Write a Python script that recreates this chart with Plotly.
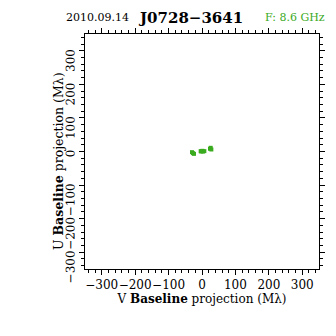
import plotly.graph_objects as go

# Data (Mλ)
v_proj = [-30, -27, -24, -4, -2, 1, 3, 7, 24, 26, 28]
u_proj = [-2, -5, -7, 1, 0, 2, 0, 1, 8, 11, 6]

date_text = "2010.09.14"
source = "J0728\u22123641"
freq_text = "F: 8.6 GHz"
tickvals = [-300, -200, -100, 0, 100, 200, 300]

green = "#3aaa1e"
font_fam = "DejaVu Serif"

# page body has an 8px margin; plot area in page coords x 85-319, y 34-269
OFF = 8
L, R, T, B = 85 - OFF, 336 - 319 + OFF, 34 - OFF, 336 - 269 + OFF
PW = 336 - L - R
PH = 336 - T - B

fig = go.Figure()
fig.add_trace(go.Scatter(x=v_proj, y=u_proj, mode="markers",
                         marker=dict(symbol="square", size=4, color=green, line=dict(width=0)),
                         showlegend=False))

axis_common = dict(
    range=[-350, 350], showgrid=False, zeroline=False,
    showline=True, linecolor="black", linewidth=1, mirror="allticks",
    ticks="outside", ticklen=5, tickwidth=1, tickcolor="black",
    tickvals=tickvals,
    tickfont=dict(family=font_fam, size=12, color="black"),
    minor=dict(dtick=20, ticks="outside", ticklen=3, tickwidth=1, tickcolor="black", showgrid=False),
    automargin=False,
)

fig.update_xaxes(**axis_common, tickangle=0,
                 title=dict(text="V <b>Baseline</b> projection (M\u03bb)", font=dict(family=font_fam, size=12, color="black"), standoff=2))
fig.update_yaxes(**axis_common, tickangle=-89.9, ticklabelstandoff=8)

def px_x(x):
    return (x - OFF - L) / PW

def px_y(y):
    return 1 + (T - (y - OFF)) / PH

fig.add_annotation(text="U <b>Baseline</b> projection (M\u03bb)", x=px_x(58), y=px_y(161), xref="paper", yref="paper",
                   textangle=-90, showarrow=False, xanchor="center", yanchor="middle",
                   font=dict(family=font_fam, size=12.5, color="black"))
fig.add_annotation(text=date_text, x=px_x(97), y=px_y(18), xref="paper", yref="paper",
                   showarrow=False, xanchor="center", yanchor="middle",
                   font=dict(family=font_fam, size=11, color="black"))
fig.add_annotation(text="<b>" + source + "</b>", x=px_x(190), y=px_y(18), xref="paper", yref="paper",
                   showarrow=False, xanchor="center", yanchor="middle",
                   font=dict(family=font_fam, size=15, color="black"))
fig.add_annotation(text=freq_text, x=px_x(295), y=px_y(18), xref="paper", yref="paper",
                   showarrow=False, xanchor="center", yanchor="middle",
                   font=dict(family=font_fam, size=11, color=green))

fig.update_layout(width=336, height=336, margin=dict(l=L, r=R, t=T, b=B),
                  paper_bgcolor="white", plot_bgcolor="white")
fig.write_html("out.html")
